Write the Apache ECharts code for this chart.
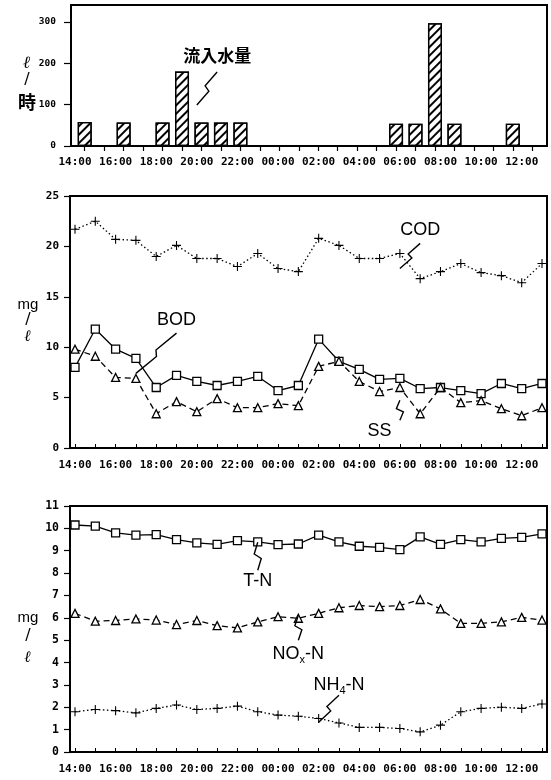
<!DOCTYPE html>
<html><head><meta charset="utf-8">
<script src="https://cdn.jsdelivr.net/npm/echarts@6/dist/echarts.min.js"></script>
<style>html,body{margin:0;padding:0;background:#fff}#c{width:551px;height:780px}</style>
</head><body><div id="c"></div>
<script>
// ---------------- data ----------------
const hours = ['14:00','15:00','16:00','17:00','18:00','19:00','20:00','21:00','22:00','23:00',
               '00:00','01:00','02:00','03:00','04:00','05:00','06:00','07:00','08:00','09:00',
               '10:00','11:00','12:00','13:00'];
// 流入水量 (ℓ/時)
const inflow = [58, null, 57, null, 57, 180, 57, 57, 57, null, null, null, null, null, null, null,
                54, 54, 297, 54, null, null, 54, null];
// mg/ℓ
const cod = [21.7, 22.5, 20.7, 20.6, 19.0, 20.1, 18.8, 18.8, 18.0, 19.3, 17.8, 17.5,
             20.8, 20.1, 18.8, 18.8, 19.3, 16.8, 17.5, 18.3, 17.4, 17.1, 16.4, 18.3];
const bod = [8.0, 11.8, 9.8, 8.9, 6.0, 7.2, 6.6, 6.2, 6.6, 7.1, 5.7, 6.2,
             10.8, 8.6, 7.8, 6.8, 6.9, 5.9, 6.0, 5.7, 5.4, 6.4, 5.9, 6.4];
const ss  = [9.8, 9.1, 7.0, 6.9, 3.4, 4.6, 3.6, 4.9, 4.0, 4.0, 4.4, 4.2,
             8.1, 8.6, 6.6, 5.6, 6.0, 3.4, 6.0, 4.5, 4.7, 3.9, 3.2, 4.0];
const tn  = [10.15, 10.1, 9.8, 9.7, 9.72, 9.5, 9.35, 9.28, 9.45, 9.4, 9.27, 9.3,
             9.7, 9.4, 9.2, 9.15, 9.05, 9.62, 9.28, 9.5, 9.4, 9.55, 9.6, 9.75];
const nox = [6.2, 5.85, 5.88, 5.95, 5.9, 5.7, 5.88, 5.65, 5.55, 5.82, 6.05, 5.98,
             6.2, 6.45, 6.55, 6.5, 6.55, 6.82, 6.4, 5.75, 5.75, 5.82, 6.02, 5.9];
const nh4 = [1.8, 1.9, 1.85, 1.75, 1.95, 2.1, 1.9, 1.95, 2.05, 1.8, 1.65, 1.6,
             1.5, 1.3, 1.1, 1.1, 1.05, 0.9, 1.2, 1.8, 1.95, 2.0, 1.95, 2.15];
// axis ranges
const inflowAxis = {min: 0, max: 300, interval: 100};
const orgAxis = {min: 0, max: 25, interval: 5};
const nAxis = {min: 0, max: 11, interval: 1};

// annotations in data space: [category index, value]
const annTop = {text: '流入水量', at: [6.8, 220], leader: [[6.5, 179], [5.57, 99]]};
const annMid = [
  {text: 'COD', at: [17.44, 21.6], leader: [[17.24, 20.3], [16.4, 17.8]]},
  {text: 'BOD', at: [4.78, 12.67], leader: [[4.53, 11.4], [3.45, 7.4]]},
  {text: 'SS',  at: [15.47, 1.65], leader: [[16.4, 4.73], [15.86, 2.75]]}
];
const annBot = [
  {text: 'T-N', at: [8.82, 7.63], leader: [[9.11, 9.38], [8.87, 8.13]]},
  {text: '{a|NO}{s|x}{a|-N}', at: [11.08, 4.37], leader: [[11.38, 6.11], [11.18, 5.0]]},
  {text: '{a|NH}{s|4}{a|-N}', at: [13.4, 2.98], leader: [[12.96, 2.54], [12.32, 1.33]]}
];

// ---------------- layout / style ----------------
const GL = 75, GR = 9;
const frames = [
  {x1: 71, x2: 547, y1: 5, y2: 146},
  {x1: 70, x2: 547, y1: 196, y2: 448},
  {x1: 70, x2: 547, y1: 506, y2: 752}
];
const numFont = 'DejaVu Sans Mono';
const black = '#000';
const crossSym = 'path://M0,4.4H10V5.6H0Z M4.4,0H5.6V10H4.4Z';

function lineX(gi) {
  return {
    type: 'category', gridIndex: gi, data: hours, boundaryGap: false,
    axisLine: {show: false},
    axisTick: {show: true, inside: true, length: 4, interval: 0, lineStyle: {color: black, width: 1}},
    axisLabel: {interval: 1, margin: 12, fontFamily: numFont, fontWeight: 'bold', fontSize: 11, color: black},
    splitLine: {show: false}
  };
}
function valY(gi, rng, margin, fs) {
  return Object.assign({
    type: 'value', gridIndex: gi, offset: 5,
    axisLine: {show: false},
    axisTick: {show: true, length: 6, lineStyle: {color: black, width: 1.2}},
    axisLabel: {margin: margin, fontFamily: numFont, fontWeight: 'bold', fontSize: fs, color: black},
    splitLine: {show: false}
  }, rng);
}

const chart = echarts.init(document.getElementById('c'), null, {renderer: 'canvas'});
chart.setOption({
  animation: false,
  backgroundColor: '#fff',
  grid: [
    {left: GL, right: GR, top: 22, height: 124},
    {left: GL, right: GR, top: 22, height: 124},
    {left: GL, right: GR, top: 196, height: 252},
    {left: GL, right: GR, top: 506, height: 246}
  ],
  xAxis: [
    {type: 'category', gridIndex: 0, data: hours, boundaryGap: true,
     axisLine: {show: false}, axisLabel: {show: false},
     axisTick: {show: true, alignWithLabel: true, interval: 0, length: 5, lineStyle: {color: black, width: 1.2}}},
    {type: 'category', gridIndex: 1, data: hours, boundaryGap: false,
     axisLine: {show: false}, axisTick: {show: false},
     axisLabel: {interval: 1, margin: 11, fontFamily: numFont, fontWeight: 'bold', fontSize: 11, color: black}},
    lineX(2), lineX(3)
  ],
  yAxis: [
    valY(0, inflowAxis, 14, 9.5),
    Object.assign({type: 'value', gridIndex: 1, show: false}, inflowAxis),
    valY(2, orgAxis, 11, 11),
    valY(3, nAxis, 11, 11.5)
  ],
  series: [
    {type: 'bar', xAxisIndex: 0, yAxisIndex: 0, data: inflow, barWidth: 14,
     itemStyle: {color: '#fff', borderColor: black, borderWidth: 1.3,
       decal: {symbol: 'rect', symbolSize: 1, color: black, backgroundColor: null,
               dashArrayX: [1, 0], dashArrayY: [1.1, 3.3], rotation: -Math.PI / 4}}},
    {type: 'line', name: 'COD', xAxisIndex: 2, yAxisIndex: 2, data: cod,
     symbol: crossSym, symbolSize: 9, itemStyle: {color: black},
     lineStyle: {color: black, width: 1.3, type: [1.5, 2.5]}},
    {type: 'line', name: 'BOD', xAxisIndex: 2, yAxisIndex: 2, data: bod,
     symbol: 'rect', symbolSize: 8, itemStyle: {color: '#fff', borderColor: black, borderWidth: 1.3},
     lineStyle: {color: black, width: 1.3, type: 'solid'}},
    {type: 'line', name: 'SS', xAxisIndex: 2, yAxisIndex: 2, data: ss,
     symbol: 'triangle', symbolSize: 8, itemStyle: {color: '#fff', borderColor: black, borderWidth: 1.3},
     lineStyle: {color: black, width: 1.3, type: [6, 4]}},
    {type: 'line', name: 'T-N', xAxisIndex: 3, yAxisIndex: 3, data: tn,
     symbol: 'rect', symbolSize: 8, itemStyle: {color: '#fff', borderColor: black, borderWidth: 1.3},
     lineStyle: {color: black, width: 1.3, type: 'solid'}},
    {type: 'line', name: 'NOx-N', xAxisIndex: 3, yAxisIndex: 3, data: nox,
     symbol: 'triangle', symbolSize: 8, itemStyle: {color: '#fff', borderColor: black, borderWidth: 1.3},
     lineStyle: {color: black, width: 1.3, type: [6, 4]}},
    {type: 'line', name: 'NH4-N', xAxisIndex: 3, yAxisIndex: 3, data: nh4,
     symbol: crossSym, symbolSize: 9, itemStyle: {color: black},
     lineStyle: {color: black, width: 1.3, type: [1.5, 2.5]}}
  ]
});

// ---------------- annotations ----------------
function bolt(p, q) {
  const lx = (t) => p[0] + (q[0] - p[0]) * t, ly = (t) => p[1] + (q[1] - p[1]) * t;
  return [p, [lx(0.42) - 3.5, ly(0.42)], [lx(0.58) + 3.5, ly(0.58)], q];
}
const g = [];
frames.forEach(f => g.push({type: 'rect', z: 1, shape: {x: f.x1, y: f.y1, width: f.x2 - f.x1, height: f.y2 - f.y1},
  style: {fill: null, stroke: black, lineWidth: 2}}));

function addAnn(gi, a, font) {
  const c = chart.convertToPixel({gridIndex: gi}, a.at);
  const p = chart.convertToPixel({gridIndex: gi}, a.leader[0]);
  const q = chart.convertToPixel({gridIndex: gi}, a.leader[1]);
  g.push({type: 'polyline', z: 5, shape: {points: bolt(p, q)}, style: {fill: null, stroke: black, lineWidth: 1.4}});
  g.push({type: 'text', z: 5, style: {
    text: a.text, x: c[0], y: c[1], align: 'center', verticalAlign: 'middle', fill: black,
    font: font,
    rich: {a: {fontSize: 18, fontFamily: 'Liberation Sans', lineHeight: 22, verticalAlign: 'middle'},
           s: {fontSize: 11, fontFamily: 'Liberation Sans', lineHeight: 22, verticalAlign: 'bottom'}}
  }});
}
addAnn(1, annTop, 'bold 17px "Noto Sans CJK JP"');
annMid.forEach(a => addAnn(2, a, '18px "Liberation Sans"'));
annBot.forEach(a => addAnn(3, a, '18px "Liberation Sans"'));

// unit labels
function unit(x, items) {
  items.forEach(it => g.push({type: 'text', z: 5, style: {text: it[0], x: x, y: it[1], align: 'center',
    verticalAlign: 'middle', fill: black, font: it[2]}}));
}
unit(27, [['ℓ', 64, 'italic bold 17px "DejaVu Serif"'], ['/', 80, '16px "DejaVu Sans"'], ['時', 102, 'bold 18px "Noto Sans CJK JP"']]);
unit(28, [['mg', 305, '15px "Liberation Sans"'], ['/', 320, '16px "DejaVu Sans"'], ['ℓ', 337, 'italic bold 16px "DejaVu Serif"']]);
unit(28, [['mg', 618, '15px "Liberation Sans"'], ['/', 636, '16px "DejaVu Sans"'], ['ℓ', 658, 'italic bold 16px "DejaVu Serif"']]);

chart.setOption({graphic: g});
</script>
</body></html>
